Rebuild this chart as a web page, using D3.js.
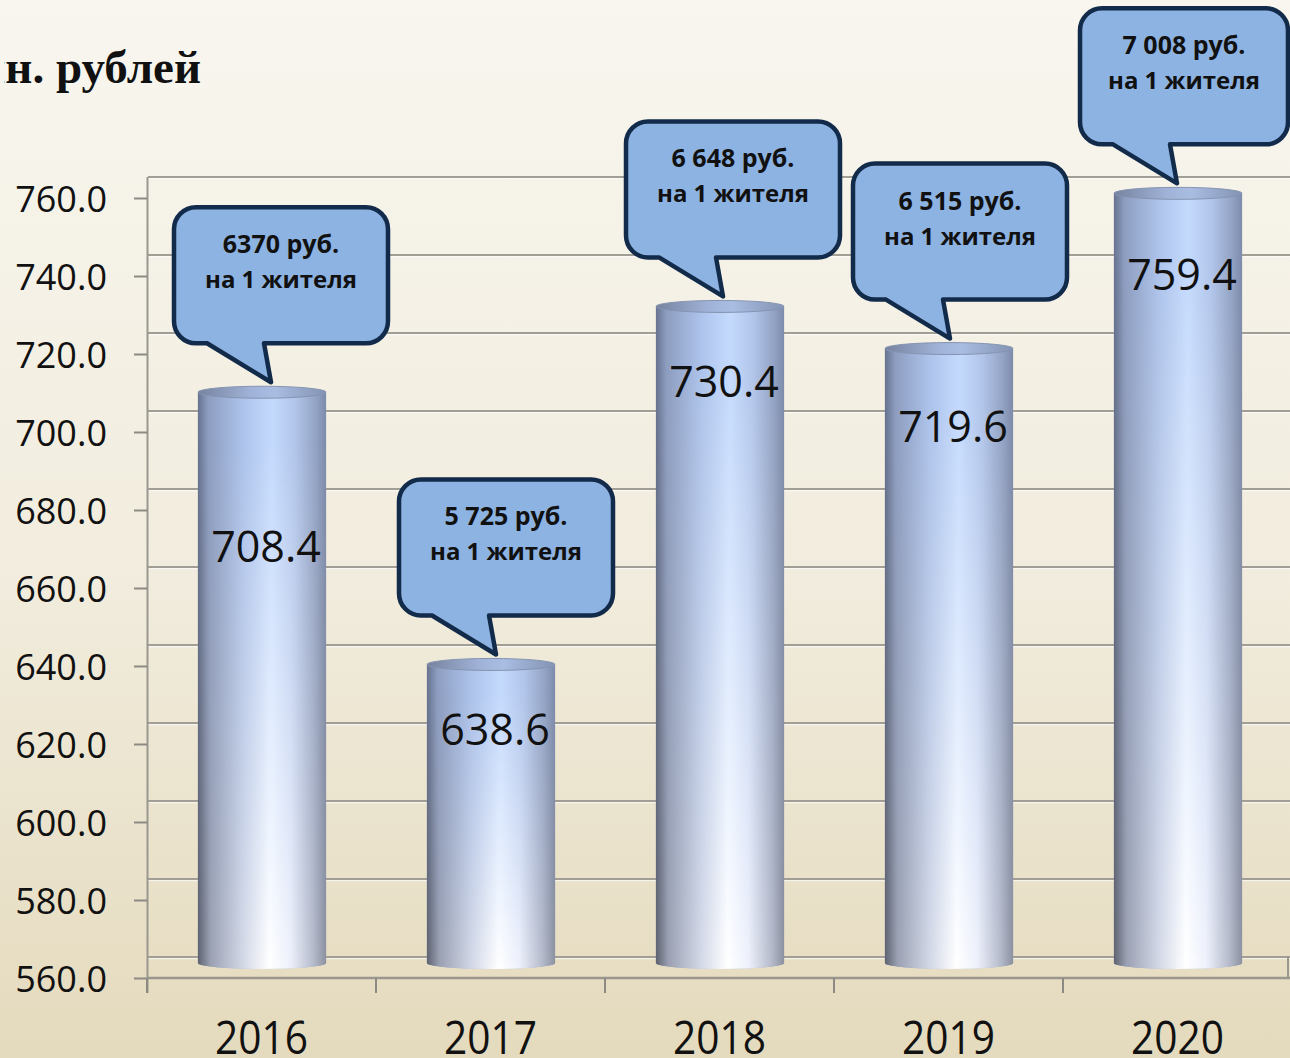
<!DOCTYPE html>
<html>
<head>
<meta charset="utf-8">
<script src="https://cdn.jsdelivr.net/npm/d3@7"></script>
<style>
  html, body { margin: 0; padding: 0; overflow: hidden; }
  svg { display: block; }
</style>
</head>
<body>
<script>
// data
var years = ["2016", "2017", "2018", "2019", "2020"];
var values = [708.4, 638.6, 730.4, 719.6, 759.4];
var perCapita = ["6370 руб.", "5 725 руб.", "6 648 руб.", "6 515 руб.", "7 008 руб."];
var perCapitaNote = "на 1 жителя";
var yTicks = [560, 580, 600, 620, 640, 660, 680, 700, 720, 740, 760];
var unitTitle = "млн. рублей";

// layout
var W = 1290, H = 1058;
var depth = 21;                            // back wall sits this far above the front axis
var labelDrop = [163, 74, 84, 86, 90];     // value labels were dragged by hand in the original
var bubbleShift = [6, 2, 0, -2, -4];       // same for the callouts
var boxW = 214, boxH = 136, boxR = 22;

var svg = d3.select("body").append("svg")
  .attr("width", W)
  .attr("height", H);

var defs = svg.append("defs");

// background
var bg = defs.append("linearGradient").attr("id", "bg")
  .attr("x1", 0).attr("y1", 0).attr("x2", 0).attr("y2", 1);
bg.append("stop").attr("offset", 0).attr("stop-color", "#f8f6ef");
bg.append("stop").attr("offset", 0.55).attr("stop-color", "#f1ecdd");
bg.append("stop").attr("offset", 1).attr("stop-color", "#e4dabd");
svg.append("rect").attr("width", W).attr("height", H).attr("fill", "url(#bg)");

function hGrad(id, stops) {
  var g = defs.append("linearGradient").attr("id", id)
    .attr("x1", 0).attr("y1", 0).attr("x2", 1).attr("y2", 0);
  stops.forEach(function (s) {
    g.append("stop").attr("offset", s[0]).attr("stop-color", s[1]);
  });
}
hGrad("barBlue", [[0, "#66728f"], [0.08, "#8d9dc0"], [0.35, "#adc3eb"], [0.58, "#c4dafd"],
                  [0.76, "#b1c5ea"], [0.92, "#93a3c4"], [1, "#7d8bab"]]);
hGrad("barPale", [[0, "#5e626f"], [0.1, "#9ba1b2"], [0.35, "#d3d8e6"], [0.56, "#ffffff"],
                  [0.72, "#eef1fb"], [0.9, "#b6bbcb"], [1, "#8c91a0"]]);
hGrad("capGrad", [[0, "#76839f"], [0.4, "#9fb1d6"], [0.6, "#a9bde2"], [1, "#8393b3"]]);

var fade = defs.append("linearGradient").attr("id", "fade")
  .attr("x1", 0).attr("y1", 0).attr("x2", 0).attr("y2", 1);
fade.append("stop").attr("offset", 0.08).attr("stop-color", "#fff").attr("stop-opacity", 0);
fade.append("stop").attr("offset", 1).attr("stop-color", "#fff").attr("stop-opacity", 1);
defs.append("mask").attr("id", "fadeMask")
  .attr("maskContentUnits", "objectBoundingBox")
  .append("rect").attr("width", 1).attr("height", 1).attr("fill", "url(#fade)");

// the title is cut by the slide frame on the left
defs.append("clipPath").attr("id", "titleClip")
  .append("rect").attr("x", 4).attr("y", 0).attr("width", 400).attr("height", 140);

// scales
var x = d3.scaleBand().domain(years).range([147, 147 + 229 * 5]);
var y = d3.scaleLinear().domain([560, 760]).range([978, 198]);

// back wall grid
var grid = svg.append("g");
grid.selectAll("line.g").data(yTicks).enter().append("line")
  .attr("x1", 148).attr("x2", W)
  .attr("y1", function (d) { return y(d) - depth + 1.5; })
  .attr("y2", function (d) { return y(d) - depth + 1.5; })
  .attr("stroke", "#ffffff").attr("stroke-opacity", 0.6).attr("stroke-width", 1.5);
grid.selectAll("line.h").data(yTicks).enter().append("line")
  .attr("x1", 148).attr("x2", W)
  .attr("y1", function (d) { return y(d) - depth; })
  .attr("y2", function (d) { return y(d) - depth; })
  .attr("stroke", "#a19e96").attr("stroke-width", 2);
// floor edges and walls
grid.append("line").attr("x1", 147.5).attr("x2", 147.5)
  .attr("y1", y(760) - depth).attr("y2", y(560) + 15)
  .attr("stroke", "#9a978f").attr("stroke-width", 2);
grid.append("line").attr("x1", 1288).attr("x2", 1288)
  .attr("y1", y(560) - depth).attr("y2", y(560))
  .attr("stroke", "#9a978f").attr("stroke-width", 2);
grid.append("line").attr("x1", 147).attr("x2", W)
  .attr("y1", y(560)).attr("y2", y(560))
  .attr("stroke", "#9a978f").attr("stroke-width", 2.5);

// y axis
var yAxis = svg.append("g")
  .attr("transform", "translate(147,0)")
  .call(d3.axisLeft(y).tickValues(yTicks).tickSize(13).tickPadding(27)
    .tickFormat(d3.format(".1f")));
yAxis.select(".domain").remove();
yAxis.selectAll(".tick line").attr("stroke", "#8d8a84").attr("stroke-width", 2);
yAxis.selectAll(".tick text")
  .attr("font-family", "'Open Sans', sans-serif")
  .attr("font-size", 36)
  .attr("fill", "#111")
  .attr("dy", null)
  .attr("y", 13);

// x axis: labels at band centres, ticks on band edges
var xAxis = svg.append("g")
  .attr("transform", "translate(0," + y(560) + ")")
  .call(d3.axisBottom(x).tickSize(0).tickPadding(0));
xAxis.select(".domain").remove();
xAxis.selectAll(".tick text")
  .attr("font-family", "'Open Sans', sans-serif")
  .attr("font-size", 45)
  .attr("fill", "#111")
  .attr("dy", null)
  .attr("y", 76)
  .attr("textLength", 93)
  .attr("lengthAdjust", "spacingAndGlyphs");
svg.append("g").selectAll("line").data(d3.range(years.length + 1)).enter().append("line")
  .attr("x1", function (i) { return 147 + i * x.step(); })
  .attr("x2", function (i) { return 147 + i * x.step(); })
  .attr("y1", y(560)).attr("y2", y(560) + 15)
  .attr("stroke", "#8d8a84").attr("stroke-width", 2);

// cylinders
var rx = x.bandwidth() * 0.28, ry = 6;
function cx(i) { return x(years[i]) + x.bandwidth() / 2 + 0.5; }
var bars = svg.append("g").selectAll("g.bar")
  .data(values).enter().append("g").attr("class", "bar");

function bodyPath(d, i) {
  var x0 = cx(i) - rx, x1 = cx(i) + rx;
  var yT = y(d) - 7, yB = y(560) - 15;
  return "M" + x0 + "," + yT + "V" + yB +
    "A" + rx + "," + ry + " 0 0 0 " + x1 + "," + yB + "V" + yT + "Z";
}
bars.append("path").attr("d", bodyPath).attr("fill", "url(#barBlue)");
bars.append("path").attr("d", bodyPath).attr("fill", "url(#barPale)")
  .attr("mask", "url(#fadeMask)");
bars.append("ellipse")
  .attr("cx", function (d, i) { return cx(i); })
  .attr("cy", function (d) { return y(d) - 7; })
  .attr("rx", rx).attr("ry", ry)
  .attr("fill", "url(#capGrad)")
  .attr("stroke", "#8594b2").attr("stroke-width", 1);

// value labels
svg.append("g").selectAll("text").data(values).enter().append("text")
  .attr("x", function (d, i) { return cx(i) + 4; })
  .attr("y", function (d, i) { return y(d) + labelDrop[i]; })
  .attr("text-anchor", "middle")
  .attr("font-family", "'Open Sans', sans-serif")
  .attr("font-size", 43)
  .attr("fill", "#111")
  .text(function (d) { return d3.format(".1f")(d); });

// speech bubbles
function bubble(d, i) {
  var L = cx(i) - 94 + bubbleShift[i];
  var tipX = L + 97;
  var B = y(d) - 56, T = B - boxH;
  var R = Math.min(L + boxW, 1288), r = boxR;
  var tipY = B + 39;
  return {
    L: L, R: R, T: T, B: B,
    path: "M" + (L + r) + "," + T + "H" + (R - r) +
      "A" + r + "," + r + " 0 0 1 " + R + "," + (T + r) +
      "V" + (B - r) + "A" + r + "," + r + " 0 0 1 " + (R - r) + "," + B +
      "H" + (L + 90) + "L" + tipX + "," + tipY + "L" + (L + 33) + "," + B +
      "H" + (L + r) + "A" + r + "," + r + " 0 0 1 " + L + "," + (B - r) +
      "V" + (T + r) + "A" + r + "," + r + " 0 0 1 " + (L + r) + "," + T + "Z"
  };
}
var bubbles = svg.append("g").selectAll("g.bubble")
  .data(values).enter().append("g").attr("class", "bubble");
bubbles.append("path")
  .attr("d", function (d, i) { return bubble(d, i).path; })
  .attr("fill", "#8db3e2")
  .attr("stroke", "#132b4a")
  .attr("stroke-width", 4.5)
  .attr("stroke-linejoin", "round");
bubbles.append("text")
  .attr("x", function (d, i) { var b = bubble(d, i); return (b.L + b.R) / 2; })
  .attr("y", function (d, i) { return bubble(d, i).T + 46; })
  .attr("text-anchor", "middle")
  .attr("font-family", "'Open Sans', sans-serif")
  .attr("font-weight", "bold")
  .attr("font-size", 25)
  .attr("fill", "#111")
  .text(function (d, i) { return perCapita[i]; });
bubbles.append("text")
  .attr("x", function (d, i) { var b = bubble(d, i); return (b.L + b.R) / 2; })
  .attr("y", function (d, i) { return bubble(d, i).T + 81; })
  .attr("text-anchor", "middle")
  .attr("font-family", "'Open Sans', sans-serif")
  .attr("font-weight", "bold")
  .attr("font-size", 24)
  .attr("fill", "#111")
  .text(perCapitaNote);

// unit title, its start is cut off by the frame in the original
svg.append("text")
  .attr("clip-path", "url(#titleClip)")
  .attr("x", 201).attr("y", 83)
  .attr("text-anchor", "end")
  .attr("font-family", "'Liberation Serif', 'Times New Roman', serif")
  .attr("font-weight", "bold")
  .attr("font-size", 47)
  .attr("fill", "#111")
  .text(unitTitle);
</script>
</body>
</html>
